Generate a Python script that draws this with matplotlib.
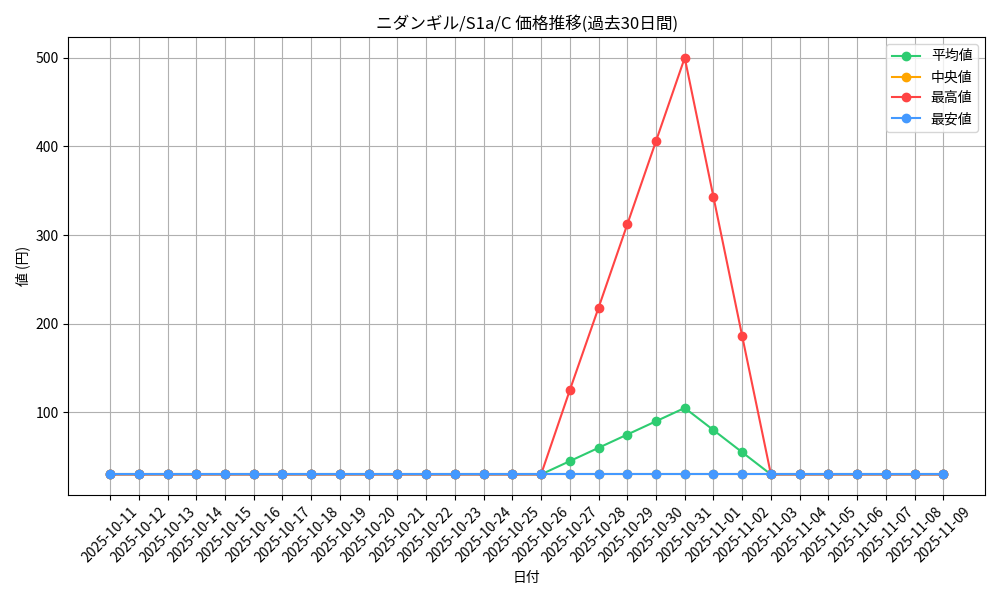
import matplotlib
matplotlib.use("Agg")
import matplotlib.pyplot as plt
import pandas as pd

plt.rcParams["font.family"] = ["Noto Sans CJK JP", "DejaVu Sans"]

dates = [d.strftime("%Y-%m-%d") for d in pd.date_range("2025-10-11", "2025-11-09")]
avg_price = [30] * 16 + [45, 60, 75, 90, 105, 80, 55] + [30] * 7
median_price = [30] * 30
max_price = [30] * 16 + [125, 218, 312, 406, 500, 343, 186] + [30] * 7
min_price = [30] * 30

fig, ax = plt.subplots(figsize=(10, 6), dpi=100)
x = range(len(dates))
ax.plot(x, avg_price, marker="o", color="#2ecc71", label="平均値")
ax.plot(x, median_price, marker="o", color="#ffa500", label="中央値")
ax.plot(x, max_price, marker="o", color="#ff4444", label="最高値")
ax.plot(x, min_price, marker="o", color="#4499ff", label="最安値")

ax.set_xticks(list(x))
ax.set_xticklabels(dates, rotation=45)
ax.set_title("ニダンギル/S1a/C 価格推移(過去30日間)")
ax.set_xlabel("日付")
ax.set_ylabel("値 (円)")
ax.grid(True)
ax.legend(loc="upper right")
fig.tight_layout()
fig.savefig("out.png")
